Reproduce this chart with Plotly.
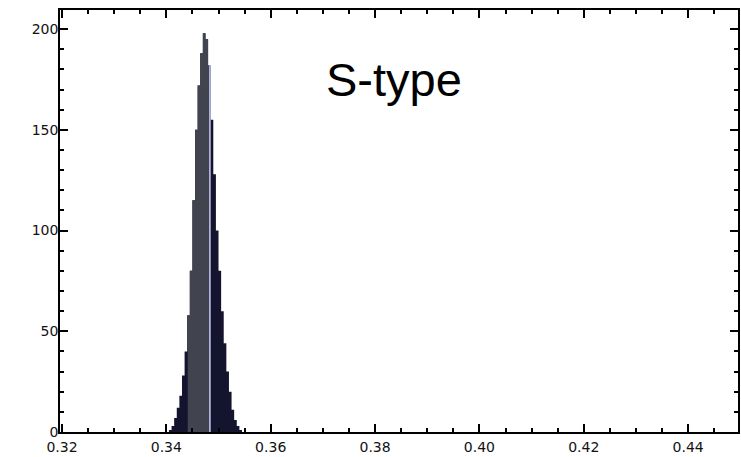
import plotly.graph_objects as go

# ---- data ----
bin_centers = [0.34075, 0.34125, 0.34175, 0.34225, 0.34275, 0.34325, 0.34375,
               0.34425, 0.34475, 0.34525, 0.34575, 0.34625, 0.34675, 0.34725,
               0.34775, 0.34825, 0.34875, 0.34925, 0.34975, 0.35025, 0.35075,
               0.35125, 0.35175, 0.35225, 0.35275, 0.35325, 0.35375, 0.35425]
counts = [1, 3, 7, 12, 18, 28, 40,
          58, 80, 115, 150, 172, 188, 198,
          195, 182, 155, 128, 100, 80, 60,
          44, 30, 20, 11, 6, 3, 1]
bin_width = 0.0005
highlight_lo = 0.3441
highlight_hi = 0.3482
edge_line_width = 0.0003
label_text = "S-type"

x_tick_vals = [0.32, 0.34, 0.36, 0.38, 0.40, 0.42, 0.44]
y_tick_vals = [0, 50, 100, 150, 200]

NAVY = "#15142f"
GREY = "#41434f"
LIGHT = "#c3c6ee"


def step_polygon(a, b):
    """Closed step outline of the histogram restricted to [a, b]."""
    xs, ys = [], []
    for c, h in zip(bin_centers, counts):
        l, r = c - bin_width / 2, c + bin_width / 2
        l, r = max(l, a), min(r, b)
        if r <= l:
            continue
        if not xs:
            xs.append(l); ys.append(0)
        xs += [l, r]; ys += [h, h]
    xs.append(xs[-1]); ys.append(0)
    xs.append(xs[0]); ys.append(0)
    return xs, ys


fig = go.Figure()
for (a, b), col in [((-1, 1), NAVY), ((highlight_lo, highlight_hi), GREY),
                    ((highlight_hi, highlight_hi + edge_line_width), LIGHT)]:
    xs, ys = step_polygon(a, b)
    fig.add_trace(go.Scatter(x=xs, y=ys, mode="lines", fill="toself", fillcolor=col,
                             line=dict(width=0, color=col), hoverinfo="skip",
                             showlegend=False))

fig.add_annotation(x=0.3837, y=175, text=label_text, showarrow=False,
                   font=dict(family="Liberation Sans, Arial, sans-serif", size=47, color="black"),
                   xanchor="center", yanchor="middle")

axis_common = dict(showline=True, linecolor="black", linewidth=1.5, mirror="allticks",
                   ticks="inside", ticklen=8, tickwidth=1.5, tickcolor="black",
                   showgrid=False, zeroline=False,
                   tickfont=dict(family="DejaVu Sans, sans-serif", size=14, color="#111111"))

fig.update_xaxes(range=[0.31962, 0.44956], tickvals=x_tick_vals, tickformat=".2f",
                 ticklabelstandoff=1,
                 minor=dict(dtick=0.005, tick0=0.32, ticks="inside", ticklen=4,
                            tickwidth=1.5, tickcolor="black", showgrid=False),
                 **axis_common)
fig.update_yaxes(range=[0, 209.5], tickvals=y_tick_vals,
                 ticklabelstandoff=-3,
                 minor=dict(dtick=10, tick0=0, ticks="inside", ticklen=4,
                            tickwidth=1.5, tickcolor="black", showgrid=False),
                 **axis_common)

fig.update_layout(width=741, height=457, margin=dict(l=60, r=1, t=10, b=25),
                  plot_bgcolor="white", paper_bgcolor="white")

fig.write_html("out.html")
